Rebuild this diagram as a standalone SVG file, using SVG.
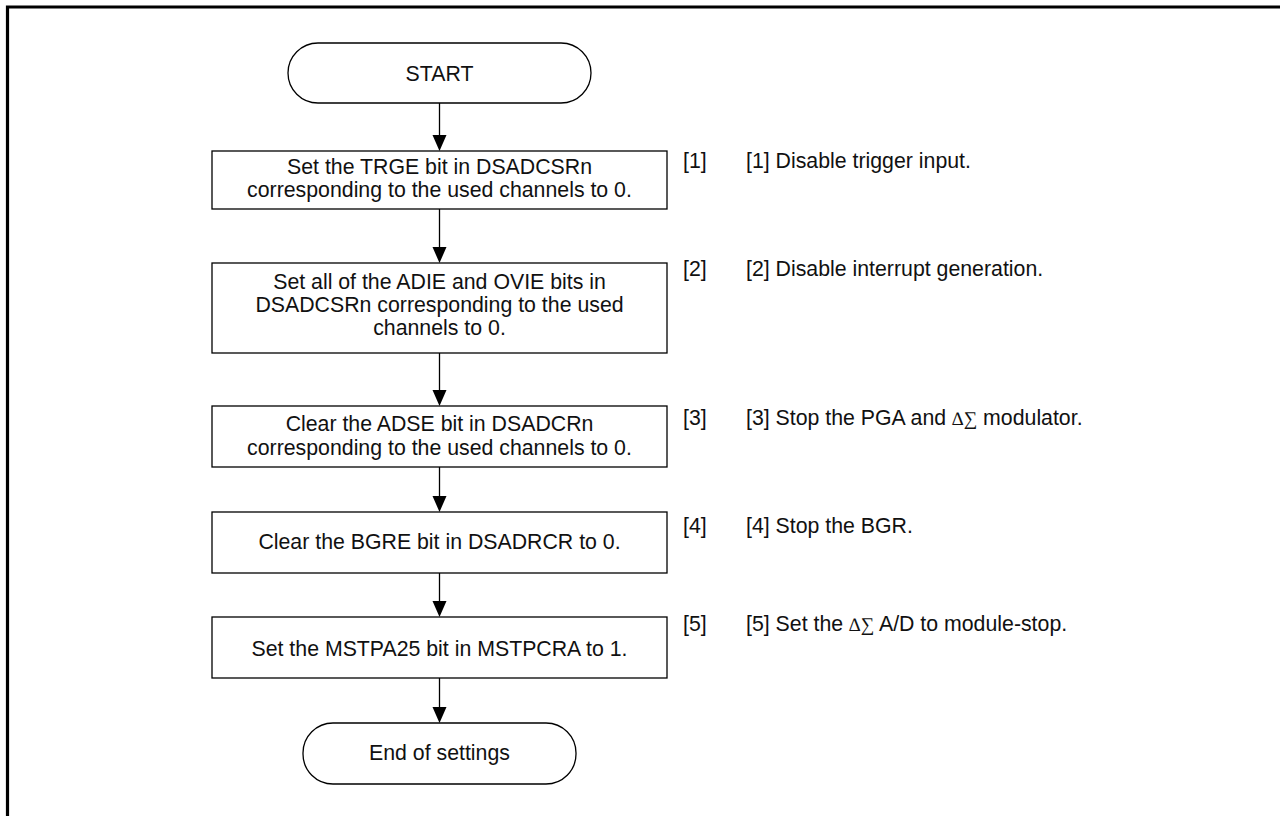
<svg xmlns="http://www.w3.org/2000/svg" width="1280" height="816" viewBox="0 0 1280 816">
<defs>
<style>
.box{fill:#fff;stroke:#000;stroke-width:1.3}
.t{font-family:"Liberation Sans",Arial,sans-serif;font-size:21.3px;fill:#111}
.c{text-anchor:middle}
.sym{font-family:"Liberation Serif","Times New Roman",serif;font-size:19px}
.conn{stroke:#000;stroke-width:1.3;fill:none}
.head{fill:#000}
</style>
</defs>
<rect width="1280" height="816" fill="#fff"/>
<path d="M7.5,830 L7.5,7 L1300,7" fill="none" stroke="#000" stroke-width="3.2"/>

<g id="connectors">
<path class="conn" d="M439.5,103 V135"/>
<path class="head" d="M432.5,135 L446.5,135 L439.5,151 Z"/>
<path class="conn" d="M439.5,209 V247"/>
<path class="head" d="M432.5,247 L446.5,247 L439.5,263 Z"/>
<path class="conn" d="M439.5,353 V390"/>
<path class="head" d="M432.5,390 L446.5,390 L439.5,406 Z"/>
<path class="conn" d="M439.5,467 V496"/>
<path class="head" d="M432.5,496 L446.5,496 L439.5,512 Z"/>
<path class="conn" d="M439.5,573 V601"/>
<path class="head" d="M432.5,601 L446.5,601 L439.5,617 Z"/>
<path class="conn" d="M439.5,678 V707"/>
<path class="head" d="M432.5,707 L446.5,707 L439.5,723 Z"/>
</g>

<g id="start">
<rect class="box" x="288" y="43" width="303" height="60" rx="30" ry="30"/>
<text class="t c" x="439.5" y="81">START</text>
</g>

<g id="step1">
<rect class="box" x="212" y="151" width="455" height="58"/>
<text class="t c" x="439.5" y="174">Set the TRGE bit in DSADCSRn</text>
<text class="t c" x="439.5" y="197">corresponding to the used channels to 0.</text>
</g>

<g id="step2">
<rect class="box" x="212" y="263" width="455" height="90"/>
<text class="t c" x="439.5" y="289">Set all of the ADIE and OVIE bits in</text>
<text class="t c" x="439.5" y="312">DSADCSRn corresponding to the used</text>
<text class="t c" x="439.5" y="335">channels to 0.</text>
</g>

<g id="step3">
<rect class="box" x="212" y="406" width="455" height="61"/>
<text class="t c" x="439.5" y="431">Clear the ADSE bit in DSADCRn</text>
<text class="t c" x="439.5" y="455">corresponding to the used channels to 0.</text>
</g>

<g id="step4">
<rect class="box" x="212" y="512" width="455" height="61"/>
<text class="t c" x="439.5" y="549">Clear the BGRE bit in DSADRCR to 0.</text>
</g>

<g id="step5">
<rect class="box" x="212" y="617" width="455" height="61"/>
<text class="t c" x="439.5" y="655.5">Set the MSTPA25 bit in MSTPCRA to 1.</text>
</g>

<g id="end">
<rect class="box" x="303" y="723" width="273" height="61" rx="30" ry="30"/>
<text class="t c" x="439.5" y="760">End of settings</text>
</g>

<g id="notes">
<text class="t" x="683" y="168">[1]</text>
<text class="t" x="746" y="168">[1] Disable trigger input.</text>
<text class="t" x="683" y="276">[2]</text>
<text class="t" x="746" y="276">[2] Disable interrupt generation.</text>
<text class="t" x="683" y="425">[3]</text>
<text class="t" x="746" y="425">[3] Stop the PGA and <tspan class="sym">∆∑</tspan> modulator.</text>
<text class="t" x="683" y="533">[4]</text>
<text class="t" x="746" y="533">[4] Stop the BGR.</text>
<text class="t" x="683" y="631">[5]</text>
<text class="t" x="746" y="631">[5] Set the <tspan class="sym">∆∑</tspan> A/D to module-stop.</text>
</g>
</svg>
